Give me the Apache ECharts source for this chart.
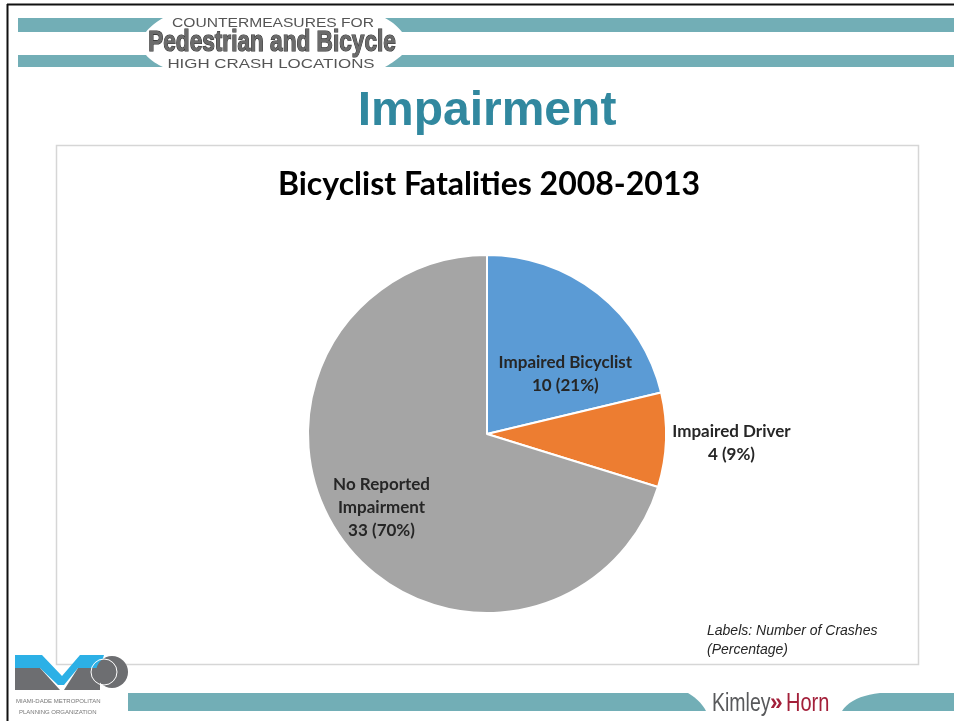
<!DOCTYPE html>
<html>
<head>
<meta charset="utf-8">
<script src="https://cdn.jsdelivr.net/npm/echarts@6/dist/echarts.min.js"></script>
<style>
html,body{margin:0;padding:0;background:#fff;}
#chart{width:954px;height:721px;}
</style>
</head>
<body>
<div id="chart"></div>
<script>
// ---- data ----
const categories = ['Impaired Bicyclist', 'Impaired Driver', 'No Reported Impairment'];
const crashCounts = [10, 4, 33];
const sliceColors = ['#5b9bd5', '#ed7d31', '#a5a5a5'];
const slideTitle = 'Impairment';
const chartTitle = 'Bicyclist Fatalities 2008-2013';
const footnoteLines = ['Labels: Number of Crashes', '(Percentage)'];

// label display names (line-wrapped)
const labelNames = ['Impaired Bicyclist', 'Impaired Driver', 'No Reported\nImpairment'];
// label nudges (style)
const labelShift = [[21, 13], [152, 6], [-31, 19]];

const teal = '#72aeb6';
const chart = echarts.init(document.getElementById('chart'));

// quadratic curve points helper for decorative swooshes
function quad(p0, c, p1, n) {
  const pts = [];
  for (let i = 0; i <= n; i++) {
    const t = i / n, u = 1 - t;
    pts.push([u*u*p0[0] + 2*u*t*c[0] + t*t*p1[0], u*u*p0[1] + 2*u*t*c[1] + t*t*p1[1]]);
  }
  return pts;
}
function swoosh(start, curve, end) {
  return { type: 'polygon', shape: { points: start.concat(curve, end) }, style: { fill: teal } };
}
function stretchedText(text, x, y, font, fill, sx, align, extra) {
  return {
    type: 'text', x: x, y: y, scaleX: sx, scaleY: 1,
    style: Object.assign({ text: text, x: 0, y: 0, align: align || 'center', verticalAlign: 'middle', font: font, fill: fill }, extra || {})
  };
}

const option = {
  backgroundColor: '#ffffff',
  animation: false,
  title: [
    {
      text: slideTitle, left: 482, top: 83, textAlign: 'center',
      textStyle: { fontFamily: 'Liberation Sans', fontWeight: 'bold', fontSize: 48, color: '#31889f' }
    },
    {
      text: chartTitle, left: 484, top: 164, textAlign: 'center',
      textStyle: { fontFamily: 'Lato', fontWeight: 'bold', fontSize: 32, color: '#000000' }
    }
  ],
  graphic: [
    // slide border
    { type: 'line', shape: { x1: 7, y1: 4.5, x2: 954, y2: 4.5 }, style: { stroke: '#111', lineWidth: 2 }, z: 10 },
    { type: 'line', shape: { x1: 7.5, y1: 4, x2: 7.5, y2: 721 }, style: { stroke: '#111', lineWidth: 2 }, z: 10 },
    // chart box
    { type: 'rect', shape: { x: 56.5, y: 145.5, width: 862, height: 519 }, style: { fill: 'none', stroke: '#d6d6d6', lineWidth: 1.5 }, z: 0 },
    // header bars
    swoosh([[18, 18]], quad([163, 18], [150, 26], [146, 32], 10), [[18, 32]]),
    swoosh([[954, 18], [954, 32]], quad([402, 32], [396, 24], [385, 18], 10), []),
    swoosh([[18, 55]], quad([146, 55], [152, 62], [163, 67], 10), [[18, 67]]),
    swoosh([[954, 55]], quad([402, 55], [394, 62], [385, 67], 10), [[954, 67]]),
    stretchedText('COUNTERMEASURES FOR', 273, 23, '13px "Liberation Sans"', '#555', 1.2),
    stretchedText('Pedestrian and Bicycle', 272, 43, 'bold 29px "Liberation Sans"', '#6b6b6b', 0.78, 'center', { stroke: '#2e2e2e', lineWidth: 1.2 }),
    stretchedText('HIGH CRASH LOCATIONS', 271, 64, '13px "Liberation Sans"', '#555', 1.3),
    // footer bars
    swoosh([[128, 693]], quad([688, 693], [700, 700], [706, 711], 10), [[128, 711]]),
    swoosh([[954, 693], [954, 711]], quad([842, 711], [852, 696], [880, 693], 10), []),
    // Kimley-Horn
    stretchedText('Kimley', 712, 704, '25px "Liberation Sans"', '#58595b', 0.78, 'left'),
    stretchedText('»', 770, 703, 'bold 24px "Liberation Sans"', '#a3203a', 0.95, 'left'),
    stretchedText('Horn', 786, 704, '25px "Liberation Sans"', '#a3203a', 0.8, 'left'),
    // MPO logo
    { type: 'polygon', shape: { points: [[15,655],[42,655],[62,676],[80,655],[104,655],[100,668],[78,668],[64,685],[58,685],[40,668],[15,668]] }, style: { fill: '#2cb0e6' } },
    { type: 'polygon', shape: { points: [[15,668],[40,668],[60,690],[15,690]] }, style: { fill: '#6d6e71' } },
    { type: 'polygon', shape: { points: [[64,690],[78,668],[100,668],[100,690]] }, style: { fill: '#6d6e71' } },
    { type: 'sector', shape: { cx: 112, cy: 672, r: 16, r0: 0, startAngle: -Math.PI / 2, endAngle: Math.PI * 1.5 }, style: { fill: '#6d6e71' } },
    { type: 'circle', shape: { cx: 104, cy: 672, r: 13 }, style: { fill: 'none', stroke: '#ffffff', lineWidth: 1 } },
    { type: 'text', style: { text: 'MIAMI-DADE METROPOLITAN', x: 16, y: 701, verticalAlign: 'middle', font: '6px "Liberation Sans"', fill: '#777' } },
    { type: 'text', style: { text: 'PLANNING ORGANIZATION', x: 19, y: 712, verticalAlign: 'middle', font: '6px "Liberation Sans"', fill: '#777' } },
    // footnote
    { type: 'text', style: { text: footnoteLines.join('\n'), x: 707, y: 622, font: 'italic 14px "Liberation Sans"', lineHeight: 19, fill: '#262626' } }
  ],
  series: [{
    type: 'pie',
    center: [487, 434],
    radius: 179,
    startAngle: 90,
    clockwise: true,
    avoidLabelOverlap: false,
    itemStyle: { borderColor: '#ffffff', borderWidth: 2 },
    label: {
      show: true,
      position: 'inside',
      fontFamily: 'Lato',
      fontWeight: 'bold',
      fontSize: 17,
      lineHeight: 23,
      color: '#262626',
      align: 'center',
      formatter: p => labelNames[p.dataIndex] + '\n' + p.value + ' (' + Math.round(p.percent) + '%)'
    },
    labelLine: { show: false },
    labelLayout: p => ({ dx: labelShift[p.dataIndex][0], dy: labelShift[p.dataIndex][1] }),
    emphasis: { disabled: true },
    data: categories.map((c, i) => ({ name: c, value: crashCounts[i], itemStyle: { color: sliceColors[i] } }))
  }]
};
chart.setOption(option);
</script>
</body>
</html>
